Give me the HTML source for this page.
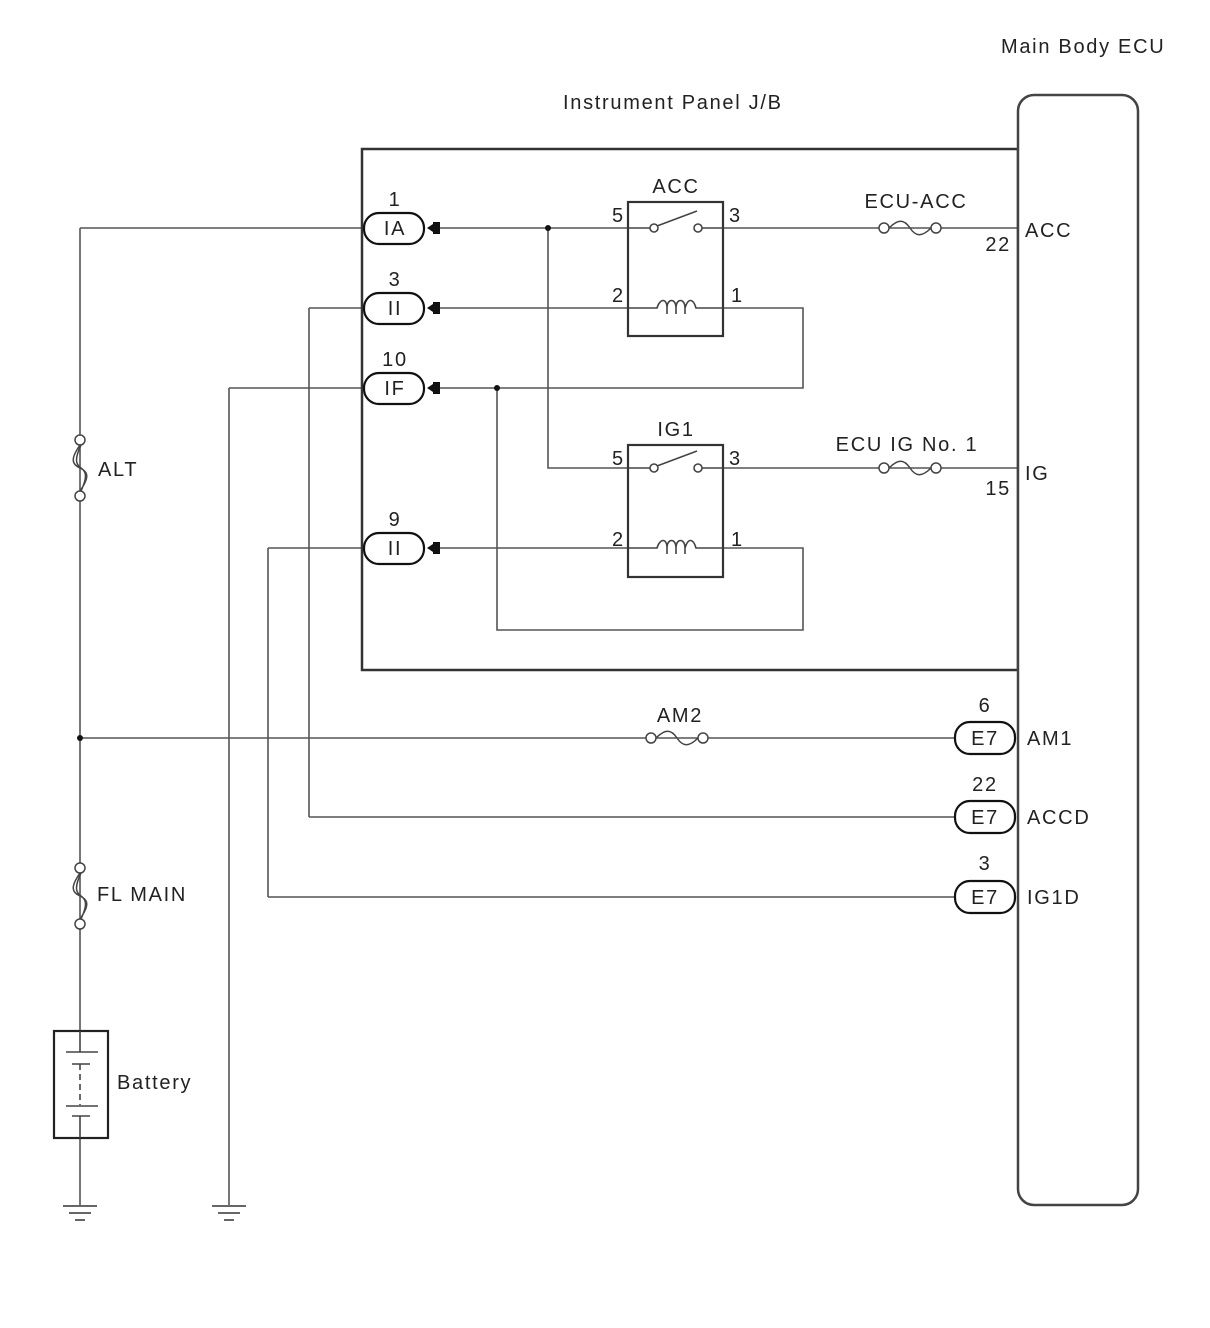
<!DOCTYPE html>
<html><head><meta charset="utf-8"><style>
html,body{margin:0;padding:0;background:#fff;}
svg{display:block;}
text{font-family:"Liberation Sans",sans-serif;font-size:20px;fill:#222;letter-spacing:1.7px;}
</style></head><body>
<svg width="1210" height="1328" viewBox="0 0 1210 1328" xmlns="http://www.w3.org/2000/svg">
<defs>
<g id="fuse"><circle cx="-26" cy="0" r="5" fill="#fff" stroke="#444" stroke-width="1.5"/><circle cx="26" cy="0" r="5" fill="#fff" stroke="#444" stroke-width="1.5"/><path d="M-21 0 C-12 -9 -6 -9 0 0 C6 9 12 9 21 0" fill="none" stroke="#444" stroke-width="1.5"/></g>
<g id="vfuse"><circle cx="0" cy="-28" r="5" fill="#fff" stroke="#444" stroke-width="1.5"/><circle cx="0" cy="28" r="5" fill="#fff" stroke="#444" stroke-width="1.5"/><path d="M0 -23 C-9 -10 -9 -4 0 0 C9 4 9 10 0 23 M1 -23 C-5 -10 -5 -4 1 0 C7 4 7 10 1 23" fill="none" stroke="#444" stroke-width="1.5"/></g>
<g id="gnd"><line x1="-17" y1="0" x2="17" y2="0" stroke="#666" stroke-width="2"/><line x1="-11" y1="7" x2="11" y2="7" stroke="#666" stroke-width="2"/><line x1="-5" y1="14" x2="5" y2="14" stroke="#666" stroke-width="2"/></g>
<g id="arr"><path d="M0 0 L9 -6 L9 6 Z" fill="#111"/><path d="M6 -6 L13 -6 L13 6 L6 6 Z" fill="#111"/></g>
</defs>
<g stroke="#555" stroke-width="1.6" fill="none">
<line x1="80" y1="228" x2="365" y2="228"/>
<line x1="80" y1="228" x2="80" y2="1205"/>
<line x1="309" y1="308" x2="365" y2="308"/>
<line x1="309" y1="308" x2="309" y2="817"/>
<line x1="309" y1="817" x2="955" y2="817"/>
<line x1="229" y1="388" x2="365" y2="388"/>
<line x1="229" y1="388" x2="229" y2="1205"/>
<line x1="268" y1="548" x2="365" y2="548"/>
<line x1="268" y1="548" x2="268" y2="897"/>
<line x1="268" y1="897" x2="955" y2="897"/>
<line x1="80" y1="738" x2="955" y2="738"/>
<line x1="436" y1="228" x2="628" y2="228"/>
<line x1="723" y1="228" x2="1018" y2="228"/>
<line x1="436" y1="308" x2="628" y2="308"/>
<polyline points="723,308 803,308 803,388 436,388"/>
<polyline points="548,228 548,468 628,468"/>
<line x1="723" y1="468" x2="1018" y2="468"/>
<line x1="436" y1="548" x2="628" y2="548"/>
<polyline points="723,548 803,548 803,630 497,630 497,388"/>
</g>
<rect x="362" y="149" width="656" height="521" fill="none" stroke="#333" stroke-width="2.5"/>
<rect x="1018" y="95" width="120" height="1110" rx="16" fill="#fff" stroke="#444" stroke-width="2.5"/>
<g stroke="#333" stroke-width="2.2" fill="#fff">
<rect x="628" y="202" width="95" height="134"/>
<rect x="628" y="445" width="95" height="132"/>
</g>
<g stroke="#444" stroke-width="1.6" fill="none">
<line x1="628" y1="228" x2="650" y2="228"/><line x1="702" y1="228" x2="723" y2="228"/>
<circle cx="654" cy="228" r="4" fill="#fff"/><circle cx="698" cy="228" r="4" fill="#fff"/><line x1="657" y1="226" x2="697" y2="211"/>
<line x1="628" y1="468" x2="650" y2="468"/><line x1="702" y1="468" x2="723" y2="468"/>
<circle cx="654" cy="468" r="4" fill="#fff"/><circle cx="698" cy="468" r="4" fill="#fff"/><line x1="657" y1="466" x2="697" y2="451"/>
<path d="M628 308 L657 308 C660 298 667 298 667 308 L667 314 M667 308 C667 298 676 298 676 308 L676 314 M676 308 C676 298 685 298 685 308 L685 314 M685 308 C688 298 693 298 696 308 L723 308"/>
<path d="M628 548 L657 548 C660 538 667 538 667 548 L667 554 M667 548 C667 538 676 538 676 548 L676 554 M676 548 C676 538 685 538 685 548 L685 554 M685 548 C688 538 693 538 696 548 L723 548"/>
</g>
<circle cx="548" cy="228" r="3" fill="#111"/><circle cx="497" cy="388" r="3" fill="#111"/><circle cx="80" cy="738" r="3" fill="#111"/>
<g stroke="#111" stroke-width="2.2" fill="#fff">
<rect x="364" y="213" width="60" height="31" rx="15"/>
<rect x="364" y="293" width="60" height="31" rx="15"/>
<rect x="364" y="373" width="60" height="31" rx="15"/>
<rect x="364" y="533" width="60" height="31" rx="15"/>
<rect x="955" y="722" width="60" height="32" rx="15"/>
<rect x="955" y="801" width="60" height="32" rx="15"/>
<rect x="955" y="881" width="60" height="32" rx="15"/>
</g>
<use href="#arr" x="427" y="228"/><use href="#arr" x="427" y="308"/><use href="#arr" x="427" y="388"/><use href="#arr" x="427" y="548"/>
<use href="#fuse" x="910" y="228"/><use href="#fuse" x="910" y="468"/><use href="#fuse" x="677" y="738"/>
<use href="#vfuse" x="80" y="468"/><use href="#vfuse" x="80" y="896"/>
<rect x="54" y="1031" width="54" height="107" fill="#fff" stroke="#222" stroke-width="2.2"/>
<g stroke="#444" stroke-width="1.6">
<line x1="80" y1="1031" x2="80" y2="1052"/><line x1="66" y1="1052" x2="98" y2="1052"/>
<line x1="72" y1="1064" x2="90" y2="1064"/><line x1="80" y1="1064" x2="80" y2="1105" stroke-dasharray="6,4"/>
<line x1="66" y1="1106" x2="98" y2="1106"/><line x1="72" y1="1116" x2="90" y2="1116"/><line x1="80" y1="1116" x2="80" y2="1138"/>
</g>
<use href="#gnd" x="80" y="1206"/><use href="#gnd" x="229" y="1206"/>
<text x="1001" y="53">Main Body ECU</text>
<text x="563" y="109">Instrument Panel J/B</text>
<text x="395" y="206" text-anchor="middle">1</text>
<text x="395" y="235" text-anchor="middle">IA</text>
<text x="395" y="286" text-anchor="middle">3</text>
<text x="395" y="315" text-anchor="middle">II</text>
<text x="395" y="366" text-anchor="middle">10</text>
<text x="395" y="395" text-anchor="middle">IF</text>
<text x="395" y="526" text-anchor="middle">9</text>
<text x="395" y="555" text-anchor="middle">II</text>
<text x="676" y="193" text-anchor="middle">ACC</text>
<text x="612" y="222">5</text><text x="729" y="222">3</text>
<text x="612" y="302">2</text><text x="731" y="302">1</text>
<text x="676" y="436" text-anchor="middle">IG1</text>
<text x="612" y="465">5</text><text x="729" y="465">3</text>
<text x="612" y="546">2</text><text x="731" y="546">1</text>
<text x="916" y="208" text-anchor="middle">ECU-ACC</text>
<text x="907" y="451" text-anchor="middle">ECU IG No. 1</text>
<text x="1011" y="251" text-anchor="end">22</text><text x="1025" y="237">ACC</text>
<text x="1011" y="495" text-anchor="end">15</text><text x="1025" y="480">IG</text>
<text x="680" y="722" text-anchor="middle">AM2</text>
<text x="985" y="712" text-anchor="middle">6</text><text x="985" y="745" text-anchor="middle">E7</text><text x="1027" y="745">AM1</text>
<text x="985" y="791" text-anchor="middle">22</text><text x="985" y="824" text-anchor="middle">E7</text><text x="1027" y="824">ACCD</text>
<text x="985" y="870" text-anchor="middle">3</text><text x="985" y="904" text-anchor="middle">E7</text><text x="1027" y="904">IG1D</text>
<text x="98" y="476">ALT</text>
<text x="97" y="901">FL MAIN</text>
<text x="117" y="1089">Battery</text>
</svg>
</body></html>
